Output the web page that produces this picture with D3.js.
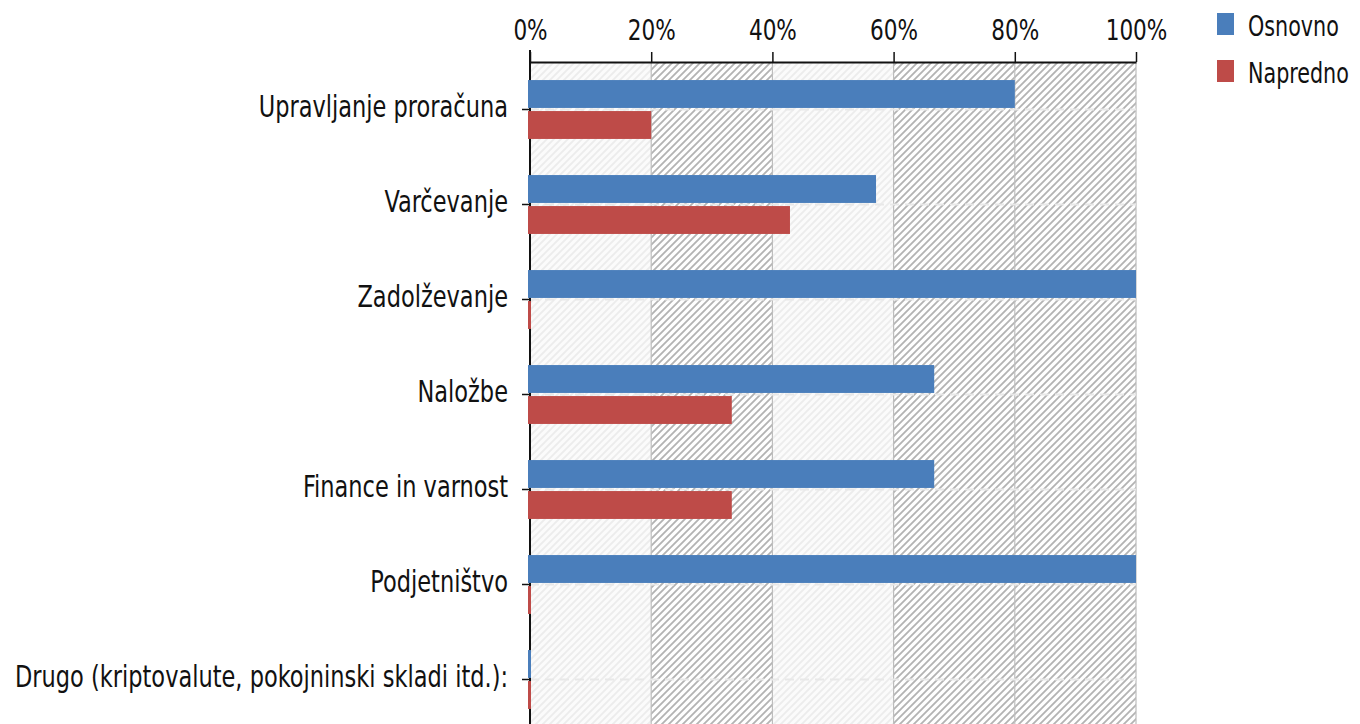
<!DOCTYPE html>
<html>
<head>
<meta charset="utf-8">
<script src="https://cdn.jsdelivr.net/npm/d3@7"></script>
<style>
  body { margin: 0; background: #fff; }
  svg { display: block; }
  text { font-family: "DejaVu Sans Condensed", "DejaVu Sans", sans-serif; fill: #111; }
</style>
</head>
<body>
<div id="chart"></div>
<script>
// data (share of answers)
const categories = [
    "Upravljanje proračuna",
    "Varčevanje",
    "Zadolževanje",
    "Naložbe",
    "Finance in varnost",
    "Podjetništvo",
    "Drugo (kriptovalute, pokojninski skladi itd.):"
]
const series = ["Osnovno", "Napredno"]
const osnovno = [0.80, 0.571, 1.00, 0.667, 0.667, 1.00, 0]
const napredno = [0.20, 0.429, 0, 0.333, 0.333, 0, 0]
const xTicks = [0, 0.2, 0.4, 0.6, 0.8, 1.0]

const colors = ["#4a7ebb", "#be4b48"]
// hatch style of each 20% band behind the bars
const bandStyle = ["light", "dark", "light", "dark", "dark"]

function bar_chart(id) {
    const W = 1360, H = 724
    const left = 530, right = 1136, top = 62, step = 95
    const stretch = 1.2 // glyphs in the picture are a bit taller than wide

    const svg = d3.select(`#${id}`)
        .append("svg")
        .attr("width", W)
        .attr("height", H)

    // hatch patterns
    const defs = svg.append("defs")
    const pat = (name, bg, fg, w) => {
        const p = defs.append("pattern")
            .attr("id", name)
            .attr("patternUnits", "userSpaceOnUse")
            .attr("width", 7).attr("height", 7)
        p.append("rect").attr("width", 7).attr("height", 7).attr("fill", bg)
        p.append("path")
            .attr("d", "M0,7 L7,0 M-1,1 L1,-1 M6,8 L8,6")
            .attr("stroke", fg).attr("stroke-width", w)
    }
    pat("hatch-light", "#fbfbfb", "#ececec", 1.8)
    pat("hatch-dark", "#ffffff", "#b3b3b3", 1.8)

    const x = d3.scaleLinear().domain([0, 1]).range([left, right])
    const y = d3.scaleBand()
        .domain(categories)
        .range([top, top + step * categories.length])
    const ySub = d3.scaleBand()
        .domain(series)
        .range([y.bandwidth() * 0.19, y.bandwidth() * 0.81])
        .paddingInner(0.1)

    const bottom = top + step * categories.length

    // background bands
    svg.append("g")
        .selectAll("rect")
        .data(bandStyle)
        .join("rect")
        .attr("x", (d, i) => x(xTicks[i]))
        .attr("width", (d, i) => x(xTicks[i + 1]) - x(xTicks[i]))
        .attr("y", top)
        .attr("height", bottom - top)
        .attr("fill", d => `url(#hatch-${d})`)

    // band edges
    svg.append("g")
        .selectAll("line")
        .data(xTicks.slice(1))
        .join("line")
        .attr("x1", d => x(d)).attr("x2", d => x(d))
        .attr("y1", top).attr("y2", bottom)
        .attr("stroke", "#bdbdbd")
        .attr("stroke-width", 1.2)

    // dashed gridlines at category centres
    svg.append("g")
        .selectAll("line")
        .data(categories)
        .join("line")
        .attr("x1", left).attr("x2", right)
        .attr("y1", d => y(d) + y.bandwidth() / 2)
        .attr("y2", d => y(d) + y.bandwidth() / 2)
        .attr("stroke", "#e8e8e8")
        .attr("stroke-width", 2)
        .attr("stroke-dasharray", "9,6")

    // left axis line (bars are painted over it)
    svg.append("line")
        .attr("x1", left).attr("x2", left)
        .attr("y1", top - 12).attr("y2", H)
        .attr("stroke", "#111")
        .attr("stroke-width", 2)

    // bars
    const values = [osnovno, napredno]
    const groups = svg.append("g")
        .selectAll("g")
        .data(categories)
        .join("g")
        .attr("transform", d => `translate(0,${y(d)})`)

    groups.selectAll("rect")
        .data((d, i) => series.map((s, k) => ({ s, k, v: values[k][i] })))
        .join("rect")
        .attr("x", x(0) - 2)
        .attr("y", d => ySub(d.s))
        .attr("width", d => Math.max(x(d.v) - x(0) + 2, 3))
        .attr("height", ySub.bandwidth())
        .attr("fill", d => colors[d.k])

    // top axis
    const xAxis = svg.append("g")
        .attr("transform", `translate(0,${top})`)
        .call(d3.axisTop(x)
            .tickValues(xTicks)
            .tickFormat(d3.format(".0%"))
            .tickSize(10)
            .tickPadding(12)
            .tickSizeOuter(0))
    xAxis.select(".domain").attr("stroke", "#111").attr("stroke-width", 2)
    xAxis.selectAll(".tick line").attr("stroke", "#111").attr("stroke-width", 1.5)
    xAxis.selectAll(".tick text")
        .style("font-size", "24px")
        .attr("fill", "#111")
        .each(function () {
            const t = d3.select(this)
            const ty = +t.attr("y")
            t.attr("y", 0).attr("dy", 0)
                .attr("transform", `translate(0,${ty}) scale(1,${stretch})`)
        })

    // category ticks and labels
    const yTicks = svg.append("g")
        .selectAll("g")
        .data(categories)
        .join("g")
        .attr("transform", d => `translate(0,${y(d) + y.bandwidth() / 2})`)
    yTicks.append("line")
        .attr("x1", left - 8).attr("x2", left - 1)
        .attr("stroke", "#111")
        .attr("stroke-width", 1.5)
    yTicks.append("text")
        .attr("text-anchor", "end")
        .attr("transform", `translate(${left - 22},7) scale(1,${stretch})`)
        .style("font-size", "25px")
        .text(d => d)

    // legend
    const legend = svg.append("g")
        .selectAll("g")
        .data(series)
        .join("g")
        .attr("transform", (d, i) => `translate(1217,${13 + i * 47})`)
    legend.append("rect")
        .attr("width", 17)
        .attr("height", 22)
        .attr("fill", (d, i) => colors[i])
    legend.append("text")
        .attr("transform", `translate(31,23) scale(1,${stretch})`)
        .style("font-size", "23px")
        .text(d => d)
}

bar_chart("chart")
</script>
</body>
</html>
